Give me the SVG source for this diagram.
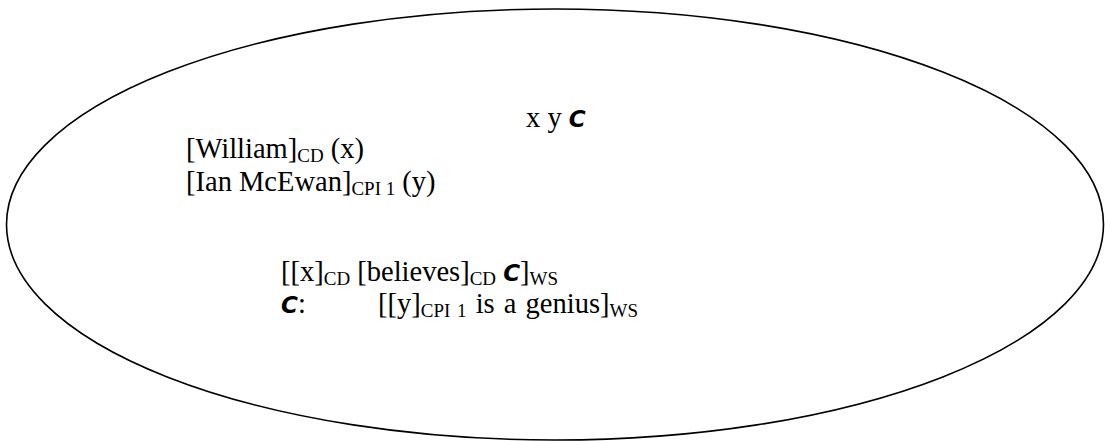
<svg xmlns="http://www.w3.org/2000/svg" width="1105" height="441" viewBox="0 0 1105 441">
<style>
.t{font-family:"Liberation Serif","Times New Roman",serif;font-size:28.5px;fill:#000}
.s{font-size:19px}
.c{font-family:"DejaVu Sans","Liberation Sans",sans-serif;font-style:italic;font-weight:bold;font-size:23px}
</style>
<rect width="1105" height="441" fill="#fff"/>
<g id="ellipse"><ellipse cx="555" cy="224.5" rx="548.5" ry="215.5" fill="none" stroke="#000" stroke-width="1.6"/></g>
<g id="header"><text class="t" x="526" y="127">x y <tspan class="c">C</tspan></text></g>
<g id="william"><text class="t" x="186" y="158">[William]<tspan class="s" dy="4">CD</tspan><tspan dy="-4"> (x)</tspan></text></g>
<g id="ian"><text class="t" x="186" y="191">[Ian McEwan]<tspan class="s" dy="4">CPI 1</tspan><tspan dy="-4"> (y)</tspan></text></g>
<g id="believes"><text class="t" x="281" y="281">[[x]<tspan class="s" dy="4">CD</tspan><tspan dy="-4"> [believes]</tspan><tspan class="s" dy="4">CD</tspan><tspan dy="-4"> </tspan><tspan class="c">C</tspan>]<tspan class="s" dy="4">WS</tspan></text></g>
<g id="clause"><text class="t" x="281" y="313"><tspan class="c">C</tspan>:</text><text class="t" x="378" y="313" word-spacing="2">[[y]<tspan class="s" dy="4">CPI 1</tspan><tspan dy="-4"> is a genius]</tspan><tspan class="s" dy="4">WS</tspan></text></g>
</svg>
